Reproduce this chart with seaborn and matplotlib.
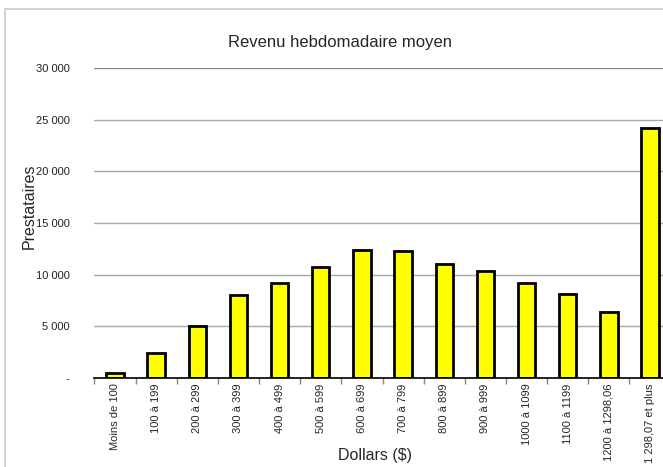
import matplotlib
matplotlib.use("Agg")
import matplotlib.pyplot as plt
import matplotlib.ticker as mticker
from matplotlib.patches import Rectangle
import pandas as pd
import seaborn as sns

# data
categories = ["Moins de 100", "100 à 199", "200 à 299", "300 à 399", "400 à 499",
              "500 à 599", "600 à 699", "700 à 799", "800 à 899", "900 à 999",
              "1000 à 1099", "1100 à 1199", "1200 à 1298,06", "1 298,07 et plus"]
prestataires = [450, 2400, 5000, 8000, 9200, 10750, 12400, 12250, 11050, 10350,
                9200, 8100, 6350, 24200]
y_ticks = [0, 5000, 10000, 15000, 20000, 25000, 30000]

df = pd.DataFrame({"tranche": categories, "prestataires": prestataires})

sns.set_theme(style="white")
plt.rcParams["font.family"] = ["Liberation Sans", "DejaVu Sans"]

fig = plt.figure(figsize=(6.63, 4.67), dpi=100)
ax = fig.add_axes([94.4 / 663, 1 - 378 / 467, 576.2 / 663, 310 / 467])

# light outer chart frame
fig.patches.append(Rectangle((5 / 663, -0.1), 1.2, 1 - 9 / 467 + 0.1,
                             transform=fig.transFigure, fill=False,
                             edgecolor="#c8c8c8", linewidth=1.2, zorder=0))

sns.barplot(data=df, x="tranche", y="prestataires", color="#ffff00",
            edgecolor="black", linewidth=2, width=0.42, saturation=1, ax=ax)

ax.set_ylim(0, 30000)
ax.set_xlim(-0.5, len(categories) - 0.5)
ax.set_yticks(y_ticks)
ax.yaxis.set_major_formatter(mticker.FuncFormatter(
    lambda v, p: "-" if v == 0 else f"{int(v):,}".replace(",", " ")))
ax.grid(axis="y", color="#a8a8a8", linewidth=1)
ax.set_axisbelow(True)
for s in ["top", "right", "left"]:
    ax.spines[s].set_visible(False)
ax.spines["bottom"].set_color("black")
ax.spines["bottom"].set_linewidth(1.2)
ax.axhline(30000, color="#808080", linewidth=1.2, zorder=1)

ax.tick_params(axis="y", length=0, pad=18, labelsize=8, labelcolor="#222222")
ax.tick_params(axis="x", which="major", length=0, pad=4, labelsize=8,
               labelrotation=90)
ax.set_xticks([i - 0.5 for i in range(len(categories) + 1)], minor=True)
ax.tick_params(axis="x", which="minor", length=4, color="#888888", width=1,
               bottom=True)

ax.set_xlabel("Dollars ($)", fontsize=11.5)
ax.xaxis.set_label_coords(0.487, -0.225)
ax.set_ylabel("Prestataires", fontsize=11.5)
ax.yaxis.set_label_coords(-0.1, 0.555)

fig.text(340 / 663, 1 - 42 / 467, "Revenu hebdomadaire moyen", ha="center",
         va="center", fontsize=12)

plt.savefig("out.png", dpi=100)
